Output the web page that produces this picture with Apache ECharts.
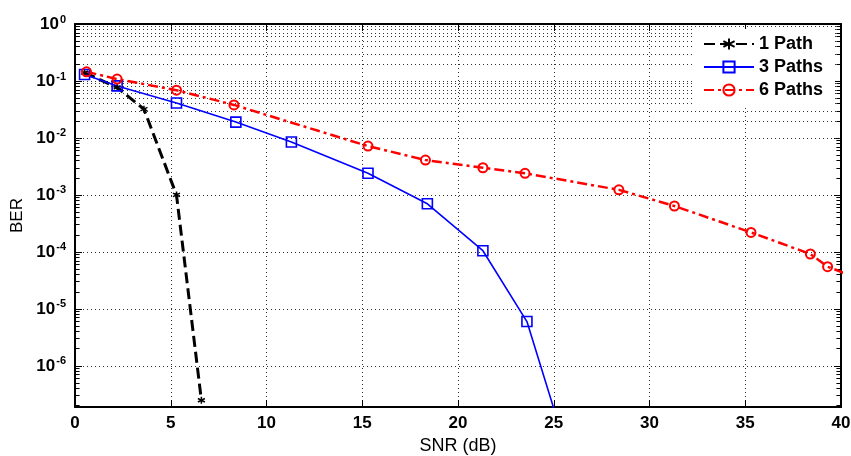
<!DOCTYPE html>
<html><head><meta charset="utf-8">
<script src="https://cdn.jsdelivr.net/npm/echarts@6/dist/echarts.min.js"></script>
<style>html,body{margin:0;padding:0;background:#fff}#c{width:851px;height:456px}</style>
</head><body><div id="c"></div>
<script>
// ---- data ----
const seriesNames = ['1 Path', '3 Paths', '6 Paths'];
const path1X = [0.5, 2.2, 3.6, 5.3, 6.6];
const path1Y = [0.14, 0.077, 0.032, 0.001, 2.5e-7];
const path3X = [0.5, 2.2, 5.3, 8.4, 11.3, 15.3, 18.4, 21.3, 23.6, 25.6];
const path3Y = [0.13, 0.082, 0.041, 0.019, 0.0085, 0.0024, 0.0007, 0.000105, 0.000006, 0.00000004];
const path6X = [0.6, 2.2, 5.3, 8.3, 15.3, 18.3, 21.3, 23.5, 28.4, 31.3, 35.3, 38.4, 39.3, 42];
const path6Y = [0.145, 0.108, 0.069, 0.038, 0.0072, 0.0041, 0.003, 0.0024, 0.00123, 0.00064, 0.00022, 0.000092, 0.000055, 0.000025];
const xTickLabels = ['0', '5', '10', '15', '20', '25', '30', '35', '40'];
const yDecadeExponents = [0, -1, -2, -3, -4, -5, -6];
const xMin = 0, xMax = 40, xStep = 5;
const yMin = 1.9e-7, yMax = 1;

const FONT = '"Liberation Sans", Arial, sans-serif';
const pairs = (xs, ys) => xs.map((x, i) => [x, ys[i]]);

// minor log grid values (2..9 x 10^k)
const minorVals = [];
for (let e = -7; e <= -1; e++) {
  for (let m = 2; m <= 9; m++) {
    const v = m * Math.pow(10, e);
    if (v > yMin && v < yMax) minorVals.push(v);
  }
}
const gridLines = minorVals.map(v => ({ yAxis: v }));
const tickLines = [];
minorVals.forEach(v => {
  tickLines.push([{ coord: [xMin, v] }, { coord: [xMin + 0.24, v] }]);
  tickLines.push([{ coord: [xMax - 0.24, v] }, { coord: [xMax, v] }]);
});

const asterisk = 'path://M5,0L5,10M0.67,2.5L9.33,7.5M0.67,7.5L9.33,2.5';

const chart = echarts.init(document.getElementById('c'), null, { renderer: 'canvas' });
chart.setOption({
  animation: false,
  backgroundColor: '#fff',
  textStyle: { fontFamily: FONT },
  grid: { left: 75, right: 10, top: 24, bottom: 49, containLabel: false, outerBoundsMode: 'none' },
  legend: {
    data: seriesNames,
    orient: 'vertical',
    left: 695,
    top: 29,
    padding: [6, 12, 6, 8],
    itemGap: 5,
    itemWidth: 50,
    itemHeight: 14,
    backgroundColor: '#fff',
    textStyle: { fontFamily: FONT, fontSize: 18, fontWeight: 'bold', color: '#000' }
  },
  xAxis: [{
    type: 'value', min: xMin, max: xMax, interval: xStep, position: 'bottom',
    axisLine: { show: true, onZero: false, lineStyle: { color: '#000', width: 2 } },
    axisTick: { show: true, inside: true, length: 7, lineStyle: { color: '#000', width: 1 } },
    axisLabel: { margin: 8, color: '#000', fontFamily: FONT, fontSize: 17, fontWeight: 'bold',
      formatter: v => xTickLabels[Math.round((v - xMin) / xStep)] },
    splitLine: { show: true, lineStyle: { color: '#333', width: 1, type: [1, 3] } },
    name: 'SNR (dB)', nameLocation: 'middle', nameGap: 30,
    nameTextStyle: { fontFamily: FONT, fontSize: 18, color: '#000' }
  }, {
    type: 'value', min: xMin, max: xMax, interval: xStep, position: 'top',
    axisLine: { show: true, onZero: false, lineStyle: { color: '#000', width: 2 } },
    axisTick: { show: true, inside: true, length: 7, lineStyle: { color: '#000', width: 1 } },
    axisLabel: { show: false }, splitLine: { show: false }
  }],
  yAxis: [{
    type: 'log', min: yMin, max: yMax, logBase: 10, position: 'left',
    axisLine: { show: true, onZero: false, lineStyle: { color: '#000', width: 2 } },
    axisTick: { show: true, inside: true, length: 7, lineStyle: { color: '#000', width: 1 } },
    axisLabel: {
      showMinLabel: false, margin: 9, color: '#000',
      formatter: v => {
        const e = Math.round(Math.log10(v));
        return '{b|10}{s|' + e + '}';
      },
      rich: {
        b: { fontFamily: FONT, fontSize: 17, fontWeight: 'bold', color: '#000', lineHeight: 20 },
        s: { fontFamily: FONT, fontSize: 11, fontWeight: 'bold', color: '#000', lineHeight: 11, verticalAlign: 'top', padding: [0, 0, 0, 1] }
      }
    },
    splitLine: { show: true, lineStyle: { color: '#333', width: 1, type: [1, 3] } },
    name: 'BER', nameLocation: 'middle', nameGap: 48, nameRotate: 90,
    nameTextStyle: { fontFamily: FONT, fontSize: 17, color: '#000' }
  }, {
    type: 'log', min: yMin, max: yMax, logBase: 10, position: 'right',
    axisLine: { show: true, onZero: false, lineStyle: { color: '#000', width: 2 } },
    axisTick: { show: true, inside: true, length: 7, lineStyle: { color: '#000', width: 1 } },
    axisLabel: { show: false }, splitLine: { show: false }
  }],
  series: [
    {
      name: 'grid', type: 'line', data: [], silent: true, xAxisIndex: 0, yAxisIndex: 0, z: 1,
      markLine: {
        silent: true, symbol: ['none', 'none'], z: 1, animation: false,
        label: { show: false },
        lineStyle: { color: '#333', width: 1, type: [1, 3] },
        emphasis: { disabled: true },
        data: gridLines.concat(tickLines.map(p => [
          Object.assign({}, p[0], { lineStyle: { type: 'solid', color: '#000', width: 1 } }),
          p[1]
        ]))
      }
    },
    {
      name: seriesNames[0], type: 'line', data: pairs(path1X, path1Y), z: 3,
      symbol: asterisk, symbolSize: 7, showAllSymbol: true,
      lineStyle: { color: '#000', width: 3, type: [11, 5] },
      itemStyle: { color: 'rgba(0,0,0,0)', borderColor: '#000', borderWidth: 1.5 }
    },
    {
      name: seriesNames[1], type: 'line', data: pairs(path3X, path3Y), z: 3,
      symbol: 'rect', symbolSize: 10, showAllSymbol: true,
      lineStyle: { color: '#0000ff', width: 1.6 },
      itemStyle: { color: 'rgba(0,0,0,0)', borderColor: '#0000ff', borderWidth: 1.6 }
    },
    {
      name: seriesNames[2], type: 'line', data: pairs(path6X, path6Y), z: 3,
      symbol: 'circle', symbolSize: 9, showAllSymbol: true,
      lineStyle: { color: '#ff0000', width: 2.5, type: [10, 4, 3, 4] },
      itemStyle: { color: 'rgba(0,0,0,0)', borderColor: '#ff0000', borderWidth: 2 }
    }
  ]
});
</script>
</body></html>
